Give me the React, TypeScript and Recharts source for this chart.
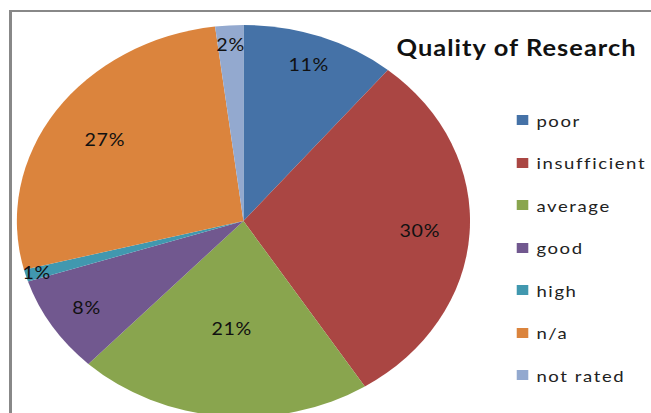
import { PieChart, Pie, Cell, Legend } from "recharts";

const categories = ["poor", "insufficient", "average", "good", "high", "n/a", "not rated"];
const shares = [11, 30, 21, 8, 1, 27, 2];
const colors = ["#4572A7", "#AA4643", "#89A54E", "#71588F", "#4198AF", "#DB843D", "#93A9CF"];
// how far out each percentage sits, as a share of the radius
const labelRadius = [0.85, 0.78, 0.55, 0.82, 0.95, 0.74, 0.9];

const data = categories.map((name, i) => ({ name, value: shares[i] }));

const STRETCH = 1.156;
const FONT = "Lato, 'Open Sans', sans-serif";
const RAD = Math.PI / 180;

function renderLabel(props: any) {
  const { cx, cy, midAngle, outerRadius, index, value } = props;
  const r = outerRadius * labelRadius[index];
  const x = cx + r * Math.cos(-midAngle * RAD);
  const y = cy + r * Math.sin(-midAngle * RAD);
  return (
    <text
      x={x}
      y={y}
      textAnchor="middle"
      dominantBaseline="central"
      fill="#111"
      fontSize={17}
      letterSpacing={0.6}
      fontFamily={FONT}
    >
      {value}%
    </text>
  );
}

function LegendList() {
  return (
    <ul style={{ listStyle: "none", margin: 0, padding: 0, fontFamily: FONT }}>
      {categories.map((name, i) => (
        <li
          key={name}
          style={{
            height: 42.5,
            display: "flex",
            alignItems: "center",
            fontSize: 16,
            letterSpacing: 1.4,
            color: "#222",
          }}
        >
          <span
            style={{
              display: "inline-block",
              width: 10,
              height: 10,
              background: colors[i],
              marginRight: 7,
            }}
          />
          {name}
        </li>
      ))}
    </ul>
  );
}

export default function App() {
  const innerWidth = 651 / STRETCH;
  return (
    <div
      style={{
        position: "absolute",
        left: 0,
        top: 0,
        width: 651,
        height: 413,
        overflow: "hidden",
        background: "#fff",
      }}
    >
      <div
        style={{
          position: "absolute",
          left: 9,
          top: 10,
          width: 700,
          height: 500,
          borderLeft: "3px solid #888",
          borderTop: "2px solid #888",
        }}
      />
      <div
        style={{
          position: "absolute",
          left: 0,
          top: 0,
          width: innerWidth,
          height: 413,
          transform: `scaleX(${STRETCH})`,
          transformOrigin: "left top",
        }}
      >
        <div
          style={{
            position: "absolute",
            left: 343,
            top: 34,
            fontFamily: FONT,
            fontWeight: 700,
            fontSize: 22,
            letterSpacing: 0.9,
            color: "#111",
            whiteSpace: "nowrap",
          }}
        >
          Quality of Research
        </div>
        <PieChart width={innerWidth} height={413} margin={{ top: 0, right: 0, bottom: 0, left: 0 }}>
          <Pie
            data={data}
            dataKey="value"
            nameKey="name"
            cx={210.6}
            cy={221}
            outerRadius={196}
            startAngle={90}
            endAngle={-270}
            stroke="none"
            label={renderLabel}
            labelLine={false}
            isAnimationActive={false}
          >
            {data.map((entry, index) => (
              <Cell key={`cell-${index}`} fill={colors[index]} />
            ))}
          </Pie>
          <Legend
            layout="vertical"
            content={() => <LegendList />}
            wrapperStyle={{ position: "absolute", left: 447, top: 99, width: 120 }}
          />
        </PieChart>
      </div>
    </div>
  );
}
